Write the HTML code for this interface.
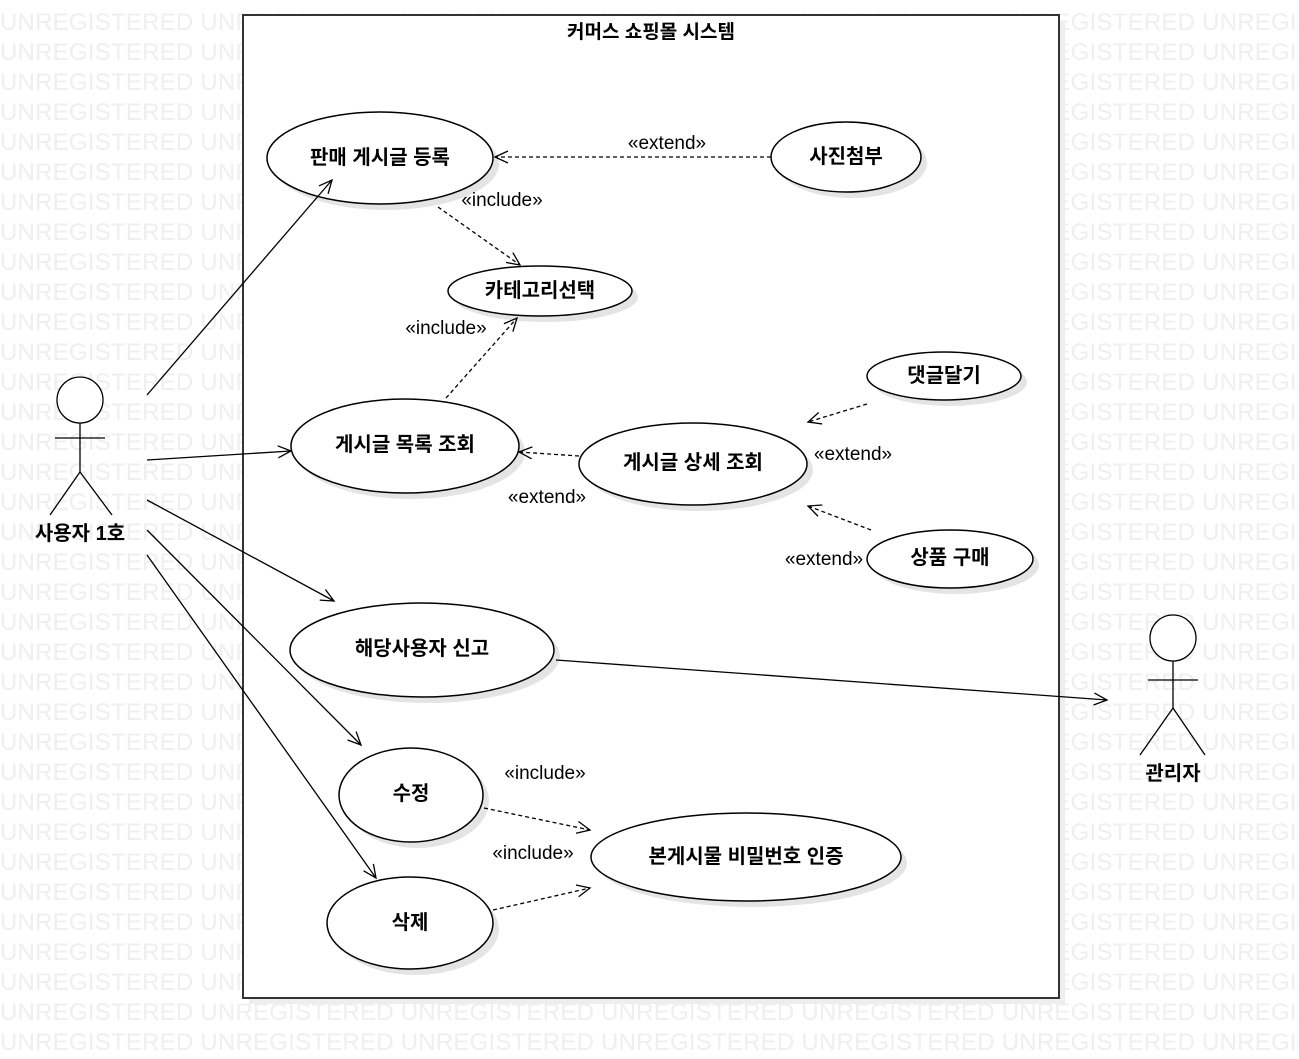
<!DOCTYPE html>
<html><head><meta charset="utf-8"><style>
html,body{margin:0;padding:0;background:#fff;}
svg{display:block;}
.wm{font-family:"Liberation Sans",sans-serif;font-size:24px;fill:#efefef;letter-spacing:0.23px;}
.lb{font-family:"Liberation Sans","Noto Sans CJK KR",sans-serif;font-size:20px;font-weight:bold;fill:#000;text-anchor:middle;}
.st{font-family:"Liberation Sans",sans-serif;font-size:19px;fill:#000;text-anchor:middle;}
</style></head><body>
<svg width="1299" height="1059" viewBox="0 0 1299 1059" xmlns="http://www.w3.org/2000/svg">
<defs>
<marker id="a" markerWidth="16" markerHeight="14" refX="14" refY="7" orient="auto" markerUnits="userSpaceOnUse">
<path d="M1,1 L14,7 L1,13" fill="none" stroke="#000" stroke-width="1.3"/></marker>
</defs>
<g class="wm">
<text x="0" y="30">UNREGISTERED UNREGISTERED UNREGISTERED UNREGISTERED UNREGISTERED UNREGISTERED UNREGISTERED</text>
<text x="0" y="60">UNREGISTERED UNREGISTERED UNREGISTERED UNREGISTERED UNREGISTERED UNREGISTERED UNREGISTERED</text>
<text x="0" y="90">UNREGISTERED UNREGISTERED UNREGISTERED UNREGISTERED UNREGISTERED UNREGISTERED UNREGISTERED</text>
<text x="0" y="120">UNREGISTERED UNREGISTERED UNREGISTERED UNREGISTERED UNREGISTERED UNREGISTERED UNREGISTERED</text>
<text x="0" y="150">UNREGISTERED UNREGISTERED UNREGISTERED UNREGISTERED UNREGISTERED UNREGISTERED UNREGISTERED</text>
<text x="0" y="180">UNREGISTERED UNREGISTERED UNREGISTERED UNREGISTERED UNREGISTERED UNREGISTERED UNREGISTERED</text>
<text x="0" y="210">UNREGISTERED UNREGISTERED UNREGISTERED UNREGISTERED UNREGISTERED UNREGISTERED UNREGISTERED</text>
<text x="0" y="240">UNREGISTERED UNREGISTERED UNREGISTERED UNREGISTERED UNREGISTERED UNREGISTERED UNREGISTERED</text>
<text x="0" y="270">UNREGISTERED UNREGISTERED UNREGISTERED UNREGISTERED UNREGISTERED UNREGISTERED UNREGISTERED</text>
<text x="0" y="300">UNREGISTERED UNREGISTERED UNREGISTERED UNREGISTERED UNREGISTERED UNREGISTERED UNREGISTERED</text>
<text x="0" y="330">UNREGISTERED UNREGISTERED UNREGISTERED UNREGISTERED UNREGISTERED UNREGISTERED UNREGISTERED</text>
<text x="0" y="360">UNREGISTERED UNREGISTERED UNREGISTERED UNREGISTERED UNREGISTERED UNREGISTERED UNREGISTERED</text>
<text x="0" y="390">UNREGISTERED UNREGISTERED UNREGISTERED UNREGISTERED UNREGISTERED UNREGISTERED UNREGISTERED</text>
<text x="0" y="420">UNREGISTERED UNREGISTERED UNREGISTERED UNREGISTERED UNREGISTERED UNREGISTERED UNREGISTERED</text>
<text x="0" y="450">UNREGISTERED UNREGISTERED UNREGISTERED UNREGISTERED UNREGISTERED UNREGISTERED UNREGISTERED</text>
<text x="0" y="480">UNREGISTERED UNREGISTERED UNREGISTERED UNREGISTERED UNREGISTERED UNREGISTERED UNREGISTERED</text>
<text x="0" y="510">UNREGISTERED UNREGISTERED UNREGISTERED UNREGISTERED UNREGISTERED UNREGISTERED UNREGISTERED</text>
<text x="0" y="540">UNREGISTERED UNREGISTERED UNREGISTERED UNREGISTERED UNREGISTERED UNREGISTERED UNREGISTERED</text>
<text x="0" y="570">UNREGISTERED UNREGISTERED UNREGISTERED UNREGISTERED UNREGISTERED UNREGISTERED UNREGISTERED</text>
<text x="0" y="600">UNREGISTERED UNREGISTERED UNREGISTERED UNREGISTERED UNREGISTERED UNREGISTERED UNREGISTERED</text>
<text x="0" y="630">UNREGISTERED UNREGISTERED UNREGISTERED UNREGISTERED UNREGISTERED UNREGISTERED UNREGISTERED</text>
<text x="0" y="660">UNREGISTERED UNREGISTERED UNREGISTERED UNREGISTERED UNREGISTERED UNREGISTERED UNREGISTERED</text>
<text x="0" y="690">UNREGISTERED UNREGISTERED UNREGISTERED UNREGISTERED UNREGISTERED UNREGISTERED UNREGISTERED</text>
<text x="0" y="720">UNREGISTERED UNREGISTERED UNREGISTERED UNREGISTERED UNREGISTERED UNREGISTERED UNREGISTERED</text>
<text x="0" y="750">UNREGISTERED UNREGISTERED UNREGISTERED UNREGISTERED UNREGISTERED UNREGISTERED UNREGISTERED</text>
<text x="0" y="780">UNREGISTERED UNREGISTERED UNREGISTERED UNREGISTERED UNREGISTERED UNREGISTERED UNREGISTERED</text>
<text x="0" y="810">UNREGISTERED UNREGISTERED UNREGISTERED UNREGISTERED UNREGISTERED UNREGISTERED UNREGISTERED</text>
<text x="0" y="840">UNREGISTERED UNREGISTERED UNREGISTERED UNREGISTERED UNREGISTERED UNREGISTERED UNREGISTERED</text>
<text x="0" y="870">UNREGISTERED UNREGISTERED UNREGISTERED UNREGISTERED UNREGISTERED UNREGISTERED UNREGISTERED</text>
<text x="0" y="900">UNREGISTERED UNREGISTERED UNREGISTERED UNREGISTERED UNREGISTERED UNREGISTERED UNREGISTERED</text>
<text x="0" y="930">UNREGISTERED UNREGISTERED UNREGISTERED UNREGISTERED UNREGISTERED UNREGISTERED UNREGISTERED</text>
<text x="0" y="960">UNREGISTERED UNREGISTERED UNREGISTERED UNREGISTERED UNREGISTERED UNREGISTERED UNREGISTERED</text>
<text x="0" y="990">UNREGISTERED UNREGISTERED UNREGISTERED UNREGISTERED UNREGISTERED UNREGISTERED UNREGISTERED</text>
<text x="0" y="1020">UNREGISTERED UNREGISTERED UNREGISTERED UNREGISTERED UNREGISTERED UNREGISTERED UNREGISTERED</text>
<text x="0" y="1050">UNREGISTERED UNREGISTERED UNREGISTERED UNREGISTERED UNREGISTERED UNREGISTERED UNREGISTERED</text>
</g>
<rect x="249" y="21" width="816" height="983" fill="#eeeeee"/>
<rect x="243" y="15" width="816" height="983" fill="#fff" stroke="#333" stroke-width="2"/>
<text class="lb" x="651" y="38" style="font-size:19px">커머스 쇼핑몰 시스템</text>

<g fill="#e4e4e4">
<ellipse cx="386" cy="164" rx="113" ry="46"/>
<ellipse cx="852" cy="163" rx="75" ry="35"/>
<ellipse cx="546" cy="297" rx="92" ry="25"/>
<ellipse cx="411" cy="452" rx="114" ry="47"/>
<ellipse cx="699" cy="470" rx="114" ry="41"/>
<ellipse cx="950" cy="382" rx="77" ry="24"/>
<ellipse cx="956" cy="565" rx="83" ry="29"/>
<ellipse cx="428" cy="656" rx="132" ry="47"/>
<ellipse cx="417" cy="801" rx="72" ry="47"/>
<ellipse cx="752" cy="863" rx="155" ry="44"/>
<ellipse cx="416" cy="929" rx="83" ry="46"/>
</g>
<g fill="#fff" stroke="#000" stroke-width="1.5">
<ellipse cx="380" cy="158" rx="113" ry="46"/>
<ellipse cx="846" cy="157" rx="75" ry="35"/>
<ellipse cx="540" cy="291" rx="92" ry="25"/>
<ellipse cx="405" cy="446" rx="114" ry="47"/>
<ellipse cx="693" cy="464" rx="114" ry="41"/>
<ellipse cx="944" cy="376" rx="77" ry="24"/>
<ellipse cx="950" cy="559" rx="83" ry="29"/>
<ellipse cx="422" cy="650" rx="132" ry="47"/>
<ellipse cx="411" cy="795" rx="72" ry="47"/>
<ellipse cx="746" cy="857" rx="155" ry="44"/>
<ellipse cx="410" cy="923" rx="83" ry="46"/>
</g>
<g class="lb">
<text x="380" y="164">판매 게시글 등록</text>
<text x="846" y="163">사진첨부</text>
<text x="540" y="297">카테고리선택</text>
<text x="405" y="451">게시글 목록 조회</text>
<text x="693" y="469">게시글 상세 조회</text>
<text x="944" y="382">댓글달기</text>
<text x="950" y="564">상품 구매</text>
<text x="422" y="655">해당사용자 신고</text>
<text x="411" y="800">수정</text>
<text x="746" y="863">본게시물 비밀번호 인증</text>
<text x="410" y="929">삭제</text>
</g>

<g stroke="#000" stroke-width="1.3" fill="none">
<circle cx="80" cy="400" r="23" fill="#fff"/>
<path d="M80,423 V472 M55,438 H105 M80,472 L50,515 M80,472 L112,515"/>
<circle cx="1173" cy="638" r="23" fill="#fff"/>
<path d="M1173,661 V708 M1148,680 H1198 M1173,708 L1140,755 M1173,708 L1205,755"/>
<g marker-end="url(#a)">
<line x1="147" y1="395" x2="332" y2="180"/>
<line x1="147" y1="460" x2="291" y2="451"/>
<line x1="147" y1="500" x2="334" y2="601"/>
<line x1="147" y1="530" x2="361" y2="745"/>
<line x1="147" y1="555" x2="376" y2="878"/>
<line x1="556" y1="660" x2="1107" y2="700"/>
</g>
<g marker-end="url(#a)" stroke-dasharray="4,3">
<line x1="771" y1="157" x2="495" y2="157"/>
<line x1="438" y1="207" x2="520" y2="265"/>
<line x1="446" y1="398" x2="517" y2="318"/>
<line x1="579" y1="456" x2="519" y2="452"/>
<line x1="867" y1="404" x2="808" y2="422"/>
<line x1="871" y1="530" x2="808" y2="506"/>
<line x1="484" y1="808" x2="590" y2="830"/>
<line x1="493" y1="910" x2="590" y2="888"/>
</g>
</g>
<g class="lb">
<text x="80" y="540">사용자 1호</text>
<text x="1173" y="780">관리자</text>
</g>
<g class="st">
<text x="667" y="149">«extend»</text>
<text x="502" y="206">«include»</text>
<text x="446" y="334">«include»</text>
<text x="547" y="503">«extend»</text>
<text x="853" y="460">«extend»</text>
<text x="824" y="565">«extend»</text>
<text x="545" y="779">«include»</text>
<text x="533" y="859">«include»</text>
</g>
</svg>
</body></html>
